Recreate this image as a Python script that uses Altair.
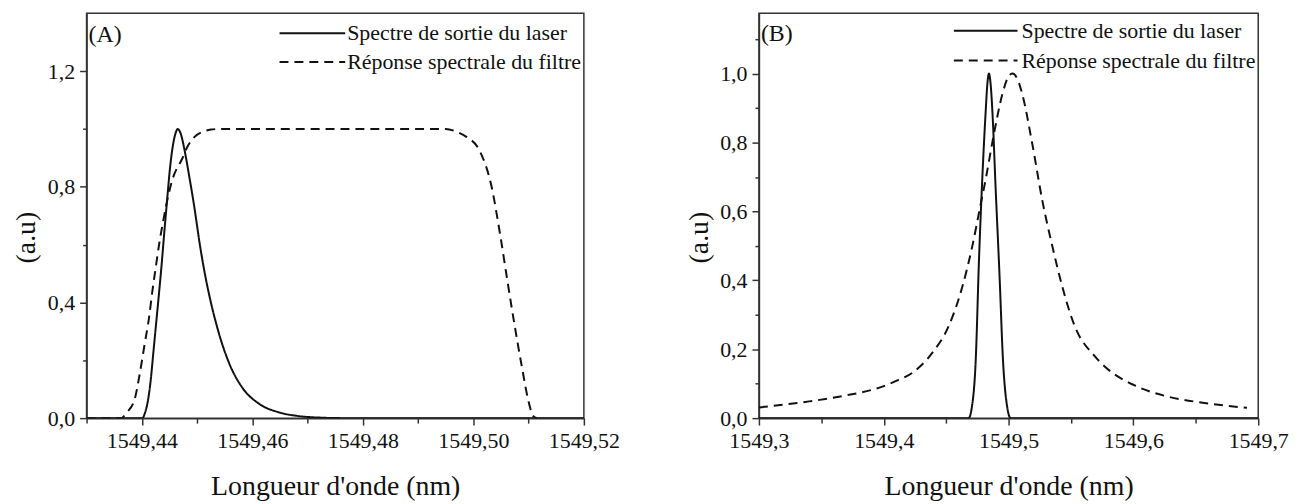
import altair as alt
import pandas as pd

FONT = "Liberation Serif"
INK = "#111111"
FRAME = "#333333"

LASER = "Spectre de sortie du laser"
FILTRE = "Réponse spectrale du filtre"

# ---------------- Panel A data ----------------
a_laser_x = [1549.4300, 1549.4401, 1549.4406, 1549.4411, 1549.4416, 1549.4421, 1549.4426,
             1549.4431, 1549.4436, 1549.4441, 1549.4446, 1549.4451, 1549.4456, 1549.4461,
             1549.4465, 1549.4471, 1549.4477, 1549.4485, 1549.4495, 1549.4505, 1549.4515,
             1549.4525, 1549.4540, 1549.4558, 1549.4582, 1549.4612, 1549.4648, 1549.4680,
             1549.4720, 1549.4765, 1549.5200]
a_laser_y = [0.0, 0.0, 0.02, 0.06, 0.13, 0.23, 0.33,
             0.43, 0.535, 0.65, 0.76, 0.865, 0.94, 0.985,
             1.0, 0.98, 0.93, 0.845, 0.73, 0.60, 0.49,
             0.40, 0.29, 0.19, 0.105, 0.05, 0.02, 0.008,
             0.002, 0.0, 0.0]

a_filter_x = [1549.4300, 1549.4362, 1549.4373, 1549.4387, 1549.4396, 1549.4405, 1549.4413,
              1549.4419, 1549.4425, 1549.4432, 1549.4439, 1549.4446, 1549.4456, 1549.4473,
              1549.4482, 1549.4495, 1549.4510, 1549.4525, 1549.4540, 1549.4950, 1549.4970,
              1549.4988, 1549.5011, 1549.5033, 1549.5048, 1549.5062, 1549.5073, 1549.5088,
              1549.5099, 1549.5108, 1549.5115]
a_filter_y = [0.0, 0.0, 0.02, 0.065, 0.151, 0.255, 0.347,
              0.438, 0.519, 0.61, 0.685, 0.754, 0.829, 0.897,
              0.937, 0.972, 0.99, 0.998, 1.0, 1.0, 0.99,
              0.972, 0.926, 0.80, 0.64, 0.47, 0.34, 0.175,
              0.065, 0.008, 0.0]

a_x_ticks = [1549.43, 1549.44, 1549.45, 1549.46, 1549.47, 1549.48, 1549.49, 1549.50, 1549.51, 1549.52]
a_y_ticks = [0.0, 0.2, 0.4, 0.6, 0.8, 1.0, 1.2]

# ---------------- Panel B data ----------------
b_laser_x = [1549.300, 1549.4680, 1549.4705, 1549.4737, 1549.4763, 1549.4790, 1549.4817,
             1549.4830, 1549.4843, 1549.4856, 1549.4870, 1549.4896, 1549.4928, 1549.4955,
             1549.4990, 1549.5016, 1549.700]
b_laser_y = [0.0, 0.0, 0.03, 0.17, 0.46, 0.70, 0.893,
             0.97, 1.0, 0.97, 0.893, 0.67, 0.41, 0.17,
             0.03, 0.0, 0.0]

b_filter_x = [1549.300, 1549.337, 1549.367, 1549.400, 1549.410, 1549.423, 1549.439,
              1549.452, 1549.463, 1549.471, 1549.4765, 1549.482, 1549.488, 1549.495,
              1549.499, 1549.503, 1549.507, 1549.511, 1549.519, 1549.527, 1549.535,
              1549.543, 1549.553, 1549.569, 1549.577, 1549.601, 1549.627, 1549.657, 1549.691]
b_filter_y = [0.031, 0.047, 0.064, 0.093, 0.108, 0.132, 0.19,
              0.267, 0.382, 0.50, 0.60, 0.70, 0.82, 0.94,
              0.985, 1.0, 0.985, 0.94, 0.796, 0.632, 0.50,
              0.382, 0.267, 0.18, 0.15, 0.095, 0.063, 0.044, 0.03]

b_x_ticks = [1549.30, 1549.35, 1549.40, 1549.45, 1549.50, 1549.55, 1549.60, 1549.65, 1549.70]
b_y_ticks = [0.0, 0.1, 0.2, 0.3, 0.4, 0.5, 0.6, 0.7, 0.8, 0.9, 1.0, 1.1]


def frame(lx, ly, fx, fy):
    return pd.concat([
        pd.DataFrame({"x": lx, "y": ly, "serie": LASER}),
        pd.DataFrame({"x": fx, "y": fy, "serie": FILTRE}),
    ], ignore_index=True)


def one():
    return alt.Data(values=[{}])


def panel(df, width, xdom, ydom, xticks, xfmt, xmajor, yticks, ymajor, tag, tag_y, leg_y, leg_x0, leg_x1, text_x):
    line = alt.Chart(df).mark_line(strokeWidth=2, color=INK, interpolate="monotone", clip=True).encode(
        x=alt.X("x:Q",
                scale=alt.Scale(domain=xdom, nice=False, zero=False),
                axis=alt.Axis(values=xticks,
                              labelExpr=f"{xmajor} ? replace(format(datum.value, '{xfmt}'), '.', ',') : ''",
                              tickSize={"condition": {"test": xmajor, "value": 7}, "value": 5},
                              title="Longueur d'onde (nm)")),
        y=alt.Y("y:Q",
                scale=alt.Scale(domain=ydom, nice=False, zero=True),
                axis=alt.Axis(values=yticks,
                              labelExpr=f"{ymajor} ? replace(format(datum.value, '.1f'), '.', ',') : ''",
                              tickSize={"condition": {"test": ymajor, "value": 7}, "value": 4},
                              title="(a.u)", titleX=-60, titleY=225, titleBaseline="middle")),
        strokeDash=alt.StrokeDash("serie:N",
                                  scale=alt.Scale(domain=[LASER, FILTRE], range=[[1, 0], [9, 6]]),
                                  legend=None),
    )
    label = alt.Chart(one()).mark_text(text=tag, align="left", baseline="middle", font=FONT,
                                       fontSize=24, color=INK).encode(x=alt.value(2), y=alt.value(tag_y))
    r1 = alt.Chart(one()).mark_rule(color=INK, strokeWidth=2).encode(
        x=alt.value(leg_x0), x2=alt.value(leg_x1), y=alt.value(leg_y[0]))
    r2 = alt.Chart(one()).mark_rule(color=INK, strokeWidth=2, strokeDash=[9, 6]).encode(
        x=alt.value(leg_x0), x2=alt.value(leg_x1), y=alt.value(leg_y[1]))
    t1 = alt.Chart(one()).mark_text(text=LASER, align="left", baseline="middle", font=FONT,
                                    fontSize=22, color=INK).encode(x=alt.value(text_x), y=alt.value(leg_y[0]))
    t2 = alt.Chart(one()).mark_text(text=FILTRE, align="left", baseline="middle", font=FONT,
                                    fontSize=22, color=INK).encode(x=alt.value(text_x), y=alt.value(leg_y[1]))
    return alt.layer(line, label, r1, r2, t1, t2).properties(width=width, height=407)


pa = panel(frame(a_laser_x, a_laser_y, a_filter_x, a_filter_y), 500,
           [1549.43, 1549.52], [0, 1.4], a_x_ticks, ".2f",
           "round(datum.value*100) % 2 == 0", a_y_ticks, "round(datum.value*10) % 4 == 0",
           "(A)", 22, [20, 49], 194, 260, 262)
pb = panel(frame(b_laser_x, b_laser_y, b_filter_x, b_filter_y), 502,
           [1549.3, 1549.7], [0, 1.175], b_x_ticks, ".1f",
           "round(datum.value*20) % 2 == 0", b_y_ticks, "round(datum.value*10) % 2 == 0",
           "(B)", 21, [17.5, 47.5], 196, 260, 264)

chart = alt.hconcat(pa, pb, spacing=176, bounds="flush").properties(
    padding={"left": 4, "top": 3, "right": 10, "bottom": 5}
).configure_view(
    stroke=FRAME, strokeWidth=1.5
).configure_axis(
    grid=False, domainColor=FRAME, domainWidth=1.5, tickColor=FRAME, tickWidth=1.5,
    labelFont=FONT, labelFontSize=22, labelColor=INK, labelPadding=6,
    labelOverlap=False, labelFlush=False, labelBound=False,
    titleFont=FONT, titleFontSize=28, titleFontWeight="normal", titleColor=INK,
).configure_axisX(titlePadding=21, labelPadding=6).configure_axisY(labelPadding=5)

chart.save("out.html", embed_options={"renderer": "svg", "actions": False})
